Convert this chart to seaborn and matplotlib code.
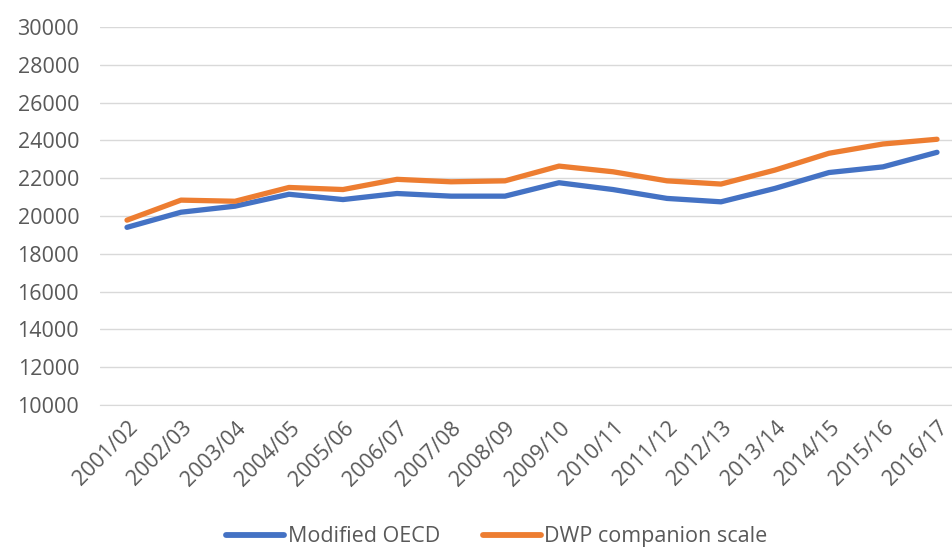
import numpy as np
import pandas as pd
import matplotlib
matplotlib.use("Agg")
import matplotlib.pyplot as plt
import seaborn as sns

# 数据
years = ["2001/02", "2002/03", "2003/04", "2004/05", "2005/06", "2006/07",
         "2007/08", "2008/09", "2009/10", "2010/11", "2011/12", "2012/13",
         "2013/14", "2014/15", "2015/16", "2016/17"]
modified_oecd = [19400, 20200, 20520, 21150, 20870, 21190, 21050, 21050,
                 21760, 21400, 20930, 20750, 21460, 22300, 22600, 23370]
dwp_companion = [19780, 20840, 20780, 21510, 21400, 21940, 21810, 21860,
                 22640, 22340, 21860, 21690, 22430, 23320, 23810, 24060]
series_names = ["Modified OECD", "DWP companion scale"]
colors = ["#4472C4", "#ED7D31"]

sns.set_style("white")
plt.rcParams['font.family'] = ['Open Sans', 'DejaVu Sans']

df = pd.DataFrame({
    "year": years * 2,
    "idx": list(range(len(years))) * 2,
    "value": modified_oecd + dwp_companion,
    "series": [series_names[0]] * len(years) + [series_names[1]] * len(years),
})

fig = plt.figure(figsize=(9.52, 5.5), dpi=100)
ax = fig.add_axes([100 / 952, 1 - 405 / 550, 864 / 952, 378 / 550])

sns.lineplot(data=df, x="idx", y="value", hue="series", hue_order=series_names,
             palette=colors, linewidth=3.8, ax=ax, legend=False,
             solid_capstyle="round")

ax.set_xlim(-0.5, len(years) - 0.5)
ax.set_ylim(10000, 30000)
ax.set_yticks(np.arange(10000, 30001, 2000))
ax.set_xticks(range(len(years)))
ax.set_xticklabels(years, rotation=45, ha="right", rotation_mode="anchor")
ax.tick_params(axis="both", colors="#595959", labelsize=15.5, length=0)
ax.tick_params(axis="x", pad=9)
ax.tick_params(axis="y", pad=15)
ax.yaxis.grid(True, color="#D9D9D9", linewidth=1)
ax.set_axisbelow(True)
ax.set_xlabel("")
ax.set_ylabel("")
for s in ["top", "right", "left"]:
    ax.spines[s].set_visible(False)
ax.spines["bottom"].set_color("#D9D9D9")

handles = [plt.Line2D([], [], color=c, linewidth=4.2, solid_capstyle="round")
           for c in colors]
fig.legend(handles, series_names, loc="lower center", ncol=2, frameon=False,
           bbox_to_anchor=(0.522, -0.03), fontsize=15.5, labelcolor="#595959",
           handlelength=2.7, handletextpad=0.15, columnspacing=2.0)

fig.savefig("out.png", dpi=100)
